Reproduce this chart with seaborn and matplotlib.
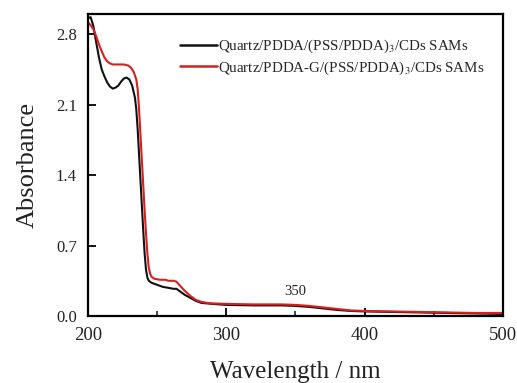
import matplotlib
matplotlib.use("Agg")
import matplotlib.pyplot as plt
import seaborn as sns
import pandas as pd
from matplotlib.ticker import MultipleLocator

# ---- data ----
wl_black = [200, 202, 204, 206, 208, 210, 212, 214, 216, 218, 220, 222, 224, 226, 228, 230,
            232, 234, 235, 236, 237, 238, 239, 240, 241, 242, 243, 244, 246, 250, 254, 258,
            262, 264, 266, 268, 270, 274, 278, 282, 286, 290, 300, 320, 340, 350, 360, 370,
            380, 390, 400, 420, 440, 460, 480, 500]
abs_black = [2.96, 2.97, 2.88, 2.72, 2.57, 2.45, 2.38, 2.32, 2.28, 2.26, 2.27, 2.29, 2.33, 2.36,
             2.37, 2.35, 2.29, 2.17, 2.05, 1.85, 1.60, 1.35, 1.10, 0.85, 0.62, 0.46, 0.38, 0.35,
             0.33, 0.31, 0.29, 0.28, 0.27, 0.27, 0.25, 0.23, 0.21, 0.18, 0.15, 0.13, 0.125, 0.12,
             0.11, 0.105, 0.105, 0.10, 0.09, 0.075, 0.06, 0.05, 0.045, 0.04, 0.035, 0.03, 0.025,
             0.02]

wl_red = [200, 202, 204, 206, 208, 210, 212, 214, 216, 218, 222, 226, 229, 231, 233, 235, 236,
          237, 238, 239, 240, 241, 242, 243, 244, 245, 246, 248, 252, 256, 258, 260, 262, 264,
          266, 268, 270, 274, 278, 282, 286, 290, 300, 320, 340, 350, 360, 370, 380, 390, 400,
          420, 440, 460, 480, 500]
abs_red = [2.92, 2.89, 2.85, 2.78, 2.70, 2.63, 2.57, 2.53, 2.51, 2.50, 2.50, 2.50, 2.49, 2.47,
           2.43, 2.35, 2.25, 2.05, 1.80, 1.55, 1.30, 1.05, 0.82, 0.62, 0.48, 0.42, 0.39, 0.37,
           0.36, 0.36, 0.35, 0.35, 0.35, 0.34, 0.31, 0.28, 0.25, 0.20, 0.16, 0.14, 0.13, 0.125,
           0.12, 0.115, 0.115, 0.11, 0.10, 0.085, 0.07, 0.055, 0.05, 0.045, 0.04, 0.035, 0.03,
           0.03]

labels = ["Quartz/PDDA/(PSS/PDDA)$_3$/CDs SAMs",
          "Quartz/PDDA-G/(PSS/PDDA)$_3$/CDs SAMs"]
x_ticks = [200, 300, 400, 500]
y_ticks = [0.0, 0.7, 1.4, 2.1, 2.8]

df = pd.concat([
    pd.DataFrame({"wl": wl_black, "A": abs_black, "s": labels[0]}),
    pd.DataFrame({"wl": wl_red, "A": abs_red, "s": labels[1]}),
])

sns.set_theme(style="white")
plt.rcParams["font.family"] = ["Liberation Serif", "DejaVu Serif"]
plt.rcParams["mathtext.fontset"] = "stix"

fig = plt.figure(figsize=(5.17, 3.83), dpi=100)
ax = fig.add_axes([0.170, 0.175, 0.803, 0.788])

sns.lineplot(data=df, x="wl", y="A", hue="s", sort=False, estimator=None,
             palette=["#111111", "#d81e1e"], linewidth=1.5, ax=ax)

ax.set_xlim(200, 500)
ax.set_ylim(0, 3.0)
ax.set_xticks(x_ticks)
ax.set_yticks(y_ticks)
ax.set_yticklabels([f"{v:.1f}" for v in y_ticks])
ax.xaxis.set_minor_locator(MultipleLocator(50))
ax.tick_params(axis="both", which="major", direction="in", length=6, width=1.3,
               bottom=True, left=True, top=False, right=False, colors="black")
ax.tick_params(axis="x", which="major", labelsize=13.5, pad=8)
ax.tick_params(axis="y", which="major", labelsize=12, pad=8)
ax.tick_params(axis="x", which="minor", direction="in", length=3.5, width=1.2, bottom=True, top=False)
for tl in ax.get_xticklabels() + ax.get_yticklabels():
    tl.set_color("#222222")
for sp in ax.spines.values():
    sp.set_color("black")
    sp.set_linewidth(1.6)

ax.set_xlabel("Wavelength / nm", fontsize=18, color="#222222", labelpad=12)
ax.set_ylabel("Absorbance", fontsize=19, color="#222222", labelpad=12)

ax.text(350, 0.175, "350", fontsize=10.5, ha="center", va="bottom", color="#222222")

leg = ax.legend(loc="upper left", bbox_to_anchor=(0.222, 0.922), frameon=False, fontsize=10.8,
                handlelength=2.45, handletextpad=0.05, labelspacing=0.3,
                borderpad=0, borderaxespad=0)
for line in leg.get_lines():
    line.set_linewidth(1.8)

fig.savefig("out.png", dpi=100)
